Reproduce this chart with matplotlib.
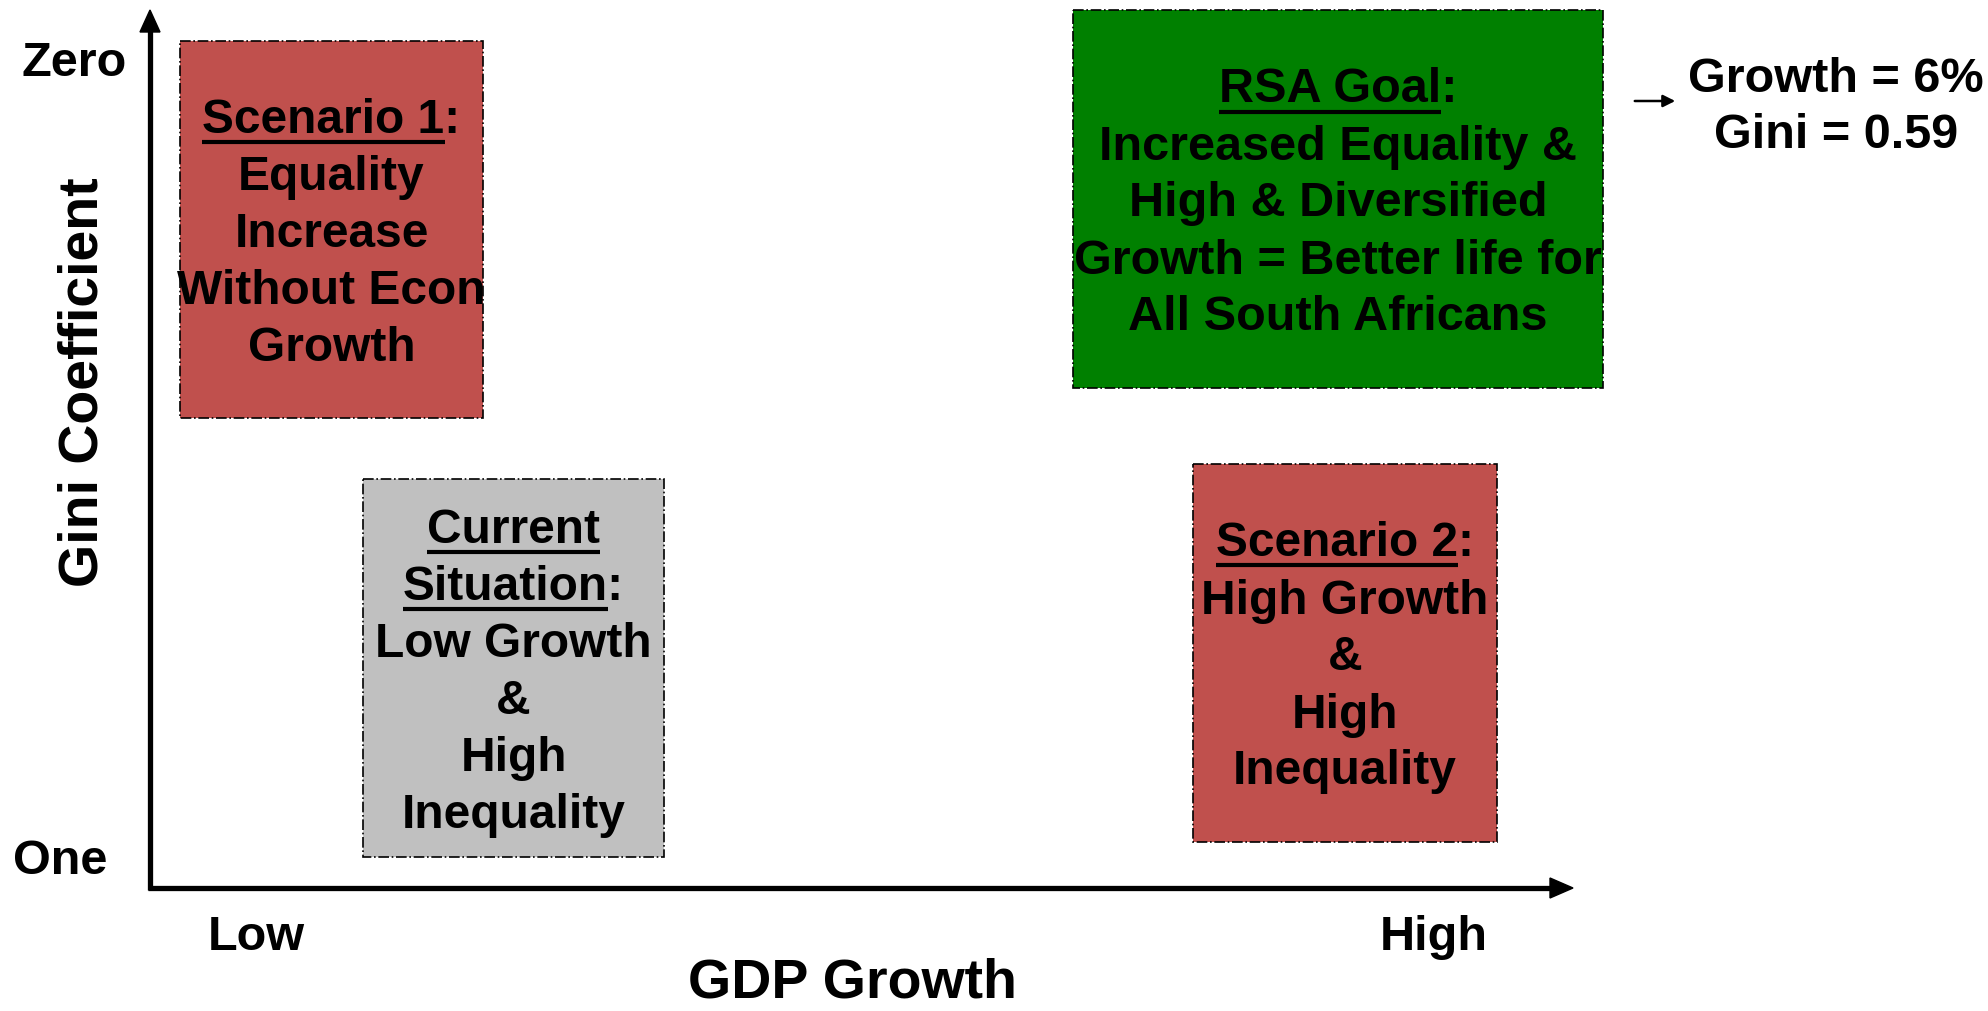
import matplotlib
matplotlib.use("Agg")
import matplotlib.pyplot as plt
from matplotlib.patches import Rectangle, Polygon

plt.rcParams['font.family'] = ['Liberation Sans', 'DejaVu Sans']
FAM = ['Liberation Sans', 'DejaVu Sans']

W, H = 1988, 1011

# Quadrant boxes: (x0, y0, x1, y1) in pixel units (y down)
box_names = ["Scenario 1", "Current Situation", "RSA Goal", "Scenario 2"]
box_extents = [(180, 41, 483, 418), (363, 479, 664, 857), (1073, 10, 1603, 388), (1193, 464, 1497, 842)]
box_colors = ["#C0504D", "#C0C0C0", "#008000", "#C0504D"]
# Lines: (text, underlined prefix)
box_lines = [
    [("Scenario 1:", "Scenario 1"), ("Equality", ""), ("Increase", ""), ("Without Econ", ""), ("Growth", "")],
    [("Current", "Current"), ("Situation:", "Situation"), ("Low Growth", ""), ("&", ""), ("High", ""), ("Inequality", "")],
    [("RSA Goal:", "RSA Goal"), ("Increased Equality &", ""), ("High & Diversified", ""),
     ("Growth = Better life for", ""), ("All South Africans", "")],
    [("Scenario 2:", "Scenario 2"), ("High Growth", ""), ("&", ""), ("High", ""), ("Inequality", "")],
]
box_fontsizes = [34.5, 34.5, 35, 34.5]

y_tick_labels = ["Zero", "One"]
x_tick_labels = ["Low", "High"]
x_title = "GDP Growth"
y_title = "Gini Coefficient"
target_lines = ["Growth = 6%", "Gini = 0.59"]

fig = plt.figure(figsize=(W / 100, H / 100), dpi=100)
ax = fig.add_axes([0, 0, 1, 1])
ax.set_xlim(0, W)
ax.set_ylim(H, 0)
ax.axis("off")

# Axes arrows
ax0x, ax0y = 150, 888
ax.plot([ax0x, ax0x], [ax0y + 2, 30], color="black", lw=3.8, solid_capstyle="butt")
ax.plot([ax0x - 2, 1552], [ax0y, ax0y], color="black", lw=3.8, solid_capstyle="butt")
ax.add_patch(Polygon([[ax0x - 10, 32], [ax0x + 10, 32], [ax0x, 10]], closed=True, color="black"))
ax.add_patch(Polygon([[1550, ax0y - 10], [1550, ax0y + 10], [1573, ax0y]], closed=True, color="black"))

# Boxes
line_gap = 57
fig.canvas.draw()
renderer = fig.canvas.get_renderer()
inv = ax.transData.inverted()
for (x0, y0, x1, y1), col, lines, fs in zip(box_extents, box_colors, box_lines, box_fontsizes):
    ax.add_patch(Rectangle((x0, y0), x1 - x0, y1 - y0, facecolor=col, edgecolor="black",
                           lw=1.2, linestyle="-.", zorder=1))
    cx, cy = (x0 + x1) / 2, (y0 + y1) / 2 + 5
    n = len(lines)
    for i, (txt, ul) in enumerate(lines):
        ly = cy + (i - (n - 1) / 2) * line_gap
        t = ax.text(cx, ly, txt, ha="center", va="center", fontsize=fs, fontweight="bold",
                    family=FAM, color="black", zorder=3)
        if ul:
            bb = t.get_window_extent(renderer)
            tmp = ax.text(0, 0, ul, fontsize=fs, fontweight="bold", family=FAM)
            wul = tmp.get_window_extent(renderer).width
            tmp.remove()
            p0 = inv.transform((bb.x0, bb.y0))
            p1 = inv.transform((bb.x0 + wul, bb.y0))
            uy = ly + fs * 0.62
            ax.plot([p0[0], p1[0]], [uy, uy], color="black", lw=3, zorder=3, solid_capstyle="butt")

# Axis labels
lab = dict(ha="center", va="center", fontweight="bold", family=FAM)
ax.text(74, 63, y_tick_labels[0], fontsize=35, **lab)
ax.text(60, 861, y_tick_labels[1], fontsize=35, **lab)
ax.text(256, 937, x_tick_labels[0], fontsize=35, **lab)
ax.text(1434, 937, x_tick_labels[1], fontsize=35, **lab)
ax.text(852, 984, x_title, fontsize=40, **lab)
ax.text(84, 382, y_title, fontsize=40, rotation=90, **lab)

# Target annotation
ax.annotate("", xy=(1678, 101), xytext=(1632, 101),
            arrowprops=dict(arrowstyle="-|>", color="black", lw=1.8, mutation_scale=18))
ax.text(1836, 79, target_lines[0], fontsize=35, **lab)
ax.text(1836, 135, target_lines[1], fontsize=35, **lab)

fig.savefig("out.png", dpi=100)
